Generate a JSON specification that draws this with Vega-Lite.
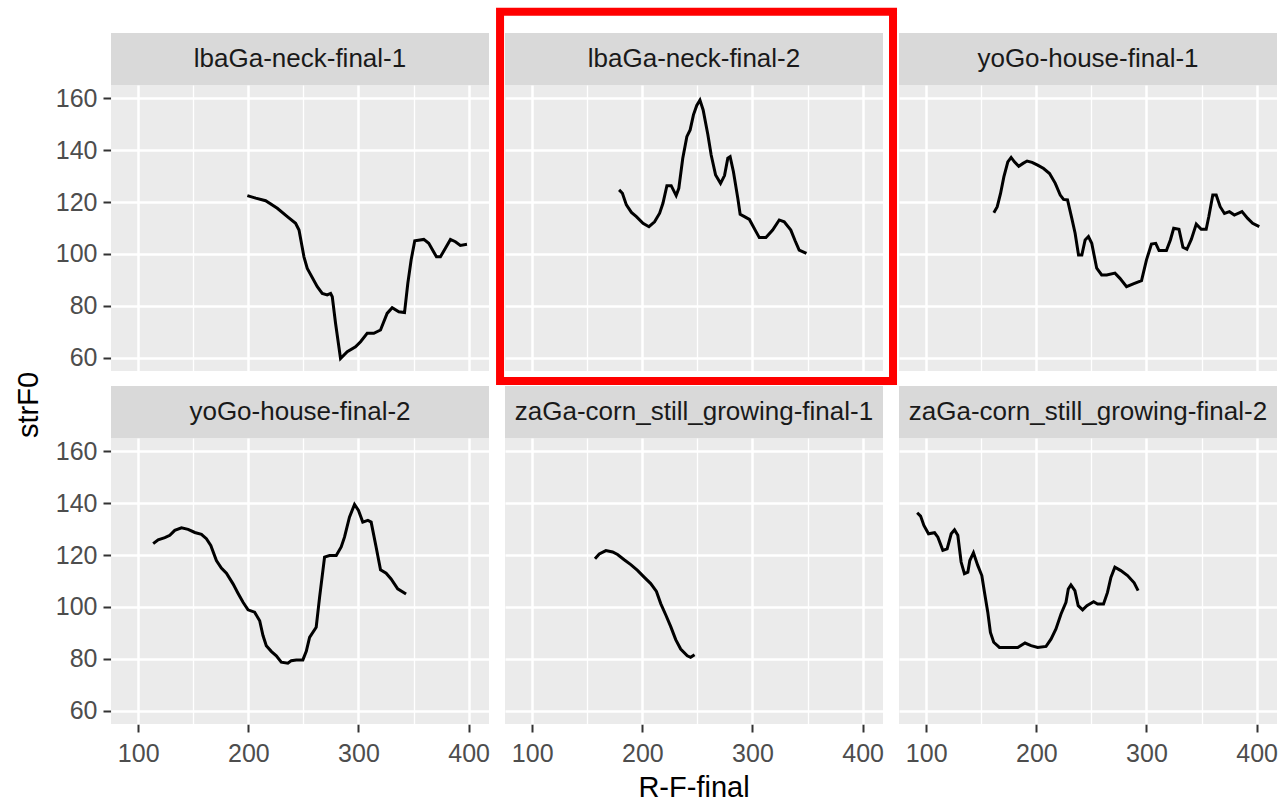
{
  "$schema": "https://vega.github.io/schema/vega-lite/v6.json",
  "padding": {"left": 15, "top": 6, "right": 2, "bottom": 0},
  "bounds": "flush",
  "title": {"text": "strF0", "orient": "left", "anchor": "middle", "fontSize": 29, "fontWeight": "normal", "color": "#000000", "offset": 11},
  "data": {"values": [
    {"panel": "lbaGa-neck-final-1", "rf": 199.1, "f0": 122.5},
    {"panel": "lbaGa-neck-final-1", "rf": 206.7, "f0": 121.5},
    {"panel": "lbaGa-neck-final-1", "rf": 215.7, "f0": 120.5},
    {"panel": "lbaGa-neck-final-1", "rf": 226.3, "f0": 117.6},
    {"panel": "lbaGa-neck-final-1", "rf": 235.4, "f0": 114.4},
    {"panel": "lbaGa-neck-final-1", "rf": 242.9, "f0": 111.8},
    {"panel": "lbaGa-neck-final-1", "rf": 246.0, "f0": 109.2},
    {"panel": "lbaGa-neck-final-1", "rf": 250.5, "f0": 98.9},
    {"panel": "lbaGa-neck-final-1", "rf": 253.5, "f0": 94.4},
    {"panel": "lbaGa-neck-final-1", "rf": 262.6, "f0": 87.4},
    {"panel": "lbaGa-neck-final-1", "rf": 267.1, "f0": 84.8},
    {"panel": "lbaGa-neck-final-1", "rf": 271.6, "f0": 84.2},
    {"panel": "lbaGa-neck-final-1", "rf": 274.7, "f0": 84.8},
    {"panel": "lbaGa-neck-final-1", "rf": 276.2, "f0": 83.5},
    {"panel": "lbaGa-neck-final-1", "rf": 279.2, "f0": 73.2},
    {"panel": "lbaGa-neck-final-1", "rf": 283.7, "f0": 59.7},
    {"panel": "lbaGa-neck-final-1", "rf": 289.8, "f0": 62.3},
    {"panel": "lbaGa-neck-final-1", "rf": 297.3, "f0": 64.2},
    {"panel": "lbaGa-neck-final-1", "rf": 301.9, "f0": 66.2},
    {"panel": "lbaGa-neck-final-1", "rf": 307.9, "f0": 69.4},
    {"panel": "lbaGa-neck-final-1", "rf": 313.9, "f0": 69.4},
    {"panel": "lbaGa-neck-final-1", "rf": 320.0, "f0": 70.7},
    {"panel": "lbaGa-neck-final-1", "rf": 326.0, "f0": 77.1},
    {"panel": "lbaGa-neck-final-1", "rf": 330.6, "f0": 79.3},
    {"panel": "lbaGa-neck-final-1", "rf": 336.6, "f0": 77.7},
    {"panel": "lbaGa-neck-final-1", "rf": 341.8, "f0": 77.4},
    {"panel": "lbaGa-neck-final-1", "rf": 344.8, "f0": 88.7},
    {"panel": "lbaGa-neck-final-1", "rf": 347.8, "f0": 97.7},
    {"panel": "lbaGa-neck-final-1", "rf": 351.1, "f0": 105.1},
    {"panel": "lbaGa-neck-final-1", "rf": 359.3, "f0": 105.6},
    {"panel": "lbaGa-neck-final-1", "rf": 363.8, "f0": 104.1},
    {"panel": "lbaGa-neck-final-1", "rf": 370.8, "f0": 98.9},
    {"panel": "lbaGa-neck-final-1", "rf": 374.4, "f0": 98.9},
    {"panel": "lbaGa-neck-final-1", "rf": 378.9, "f0": 102.2},
    {"panel": "lbaGa-neck-final-1", "rf": 383.5, "f0": 105.6},
    {"panel": "lbaGa-neck-final-1", "rf": 388.0, "f0": 104.7},
    {"panel": "lbaGa-neck-final-1", "rf": 392.5, "f0": 103.3},
    {"panel": "lbaGa-neck-final-1", "rf": 398.5, "f0": 103.7},

    {"panel": "lbaGa-neck-final-2", "rf": 178.9, "f0": 124.7},
    {"panel": "lbaGa-neck-final-2", "rf": 181.9, "f0": 123.4},
    {"panel": "lbaGa-neck-final-2", "rf": 185.5, "f0": 118.9},
    {"panel": "lbaGa-neck-final-2", "rf": 190.1, "f0": 116.0},
    {"panel": "lbaGa-neck-final-2", "rf": 194.6, "f0": 114.4},
    {"panel": "lbaGa-neck-final-2", "rf": 200.6, "f0": 111.8},
    {"panel": "lbaGa-neck-final-2", "rf": 206.0, "f0": 110.5},
    {"panel": "lbaGa-neck-final-2", "rf": 211.1, "f0": 112.4},
    {"panel": "lbaGa-neck-final-2", "rf": 215.7, "f0": 115.7},
    {"panel": "lbaGa-neck-final-2", "rf": 218.7, "f0": 119.5},
    {"panel": "lbaGa-neck-final-2", "rf": 222.3, "f0": 126.3},
    {"panel": "lbaGa-neck-final-2", "rf": 226.2, "f0": 126.3},
    {"panel": "lbaGa-neck-final-2", "rf": 230.7, "f0": 122.5},
    {"panel": "lbaGa-neck-final-2", "rf": 233.1, "f0": 125.3},
    {"panel": "lbaGa-neck-final-2", "rf": 236.7, "f0": 136.9},
    {"panel": "lbaGa-neck-final-2", "rf": 240.4, "f0": 145.2},
    {"panel": "lbaGa-neck-final-2", "rf": 243.4, "f0": 147.8},
    {"panel": "lbaGa-neck-final-2", "rf": 246.4, "f0": 153.6},
    {"panel": "lbaGa-neck-final-2", "rf": 249.4, "f0": 157.2},
    {"panel": "lbaGa-neck-final-2", "rf": 252.3, "f0": 159.3},
    {"panel": "lbaGa-neck-final-2", "rf": 255.2, "f0": 155.5},
    {"panel": "lbaGa-neck-final-2", "rf": 259.5, "f0": 145.9},
    {"panel": "lbaGa-neck-final-2", "rf": 262.5, "f0": 138.1},
    {"panel": "lbaGa-neck-final-2", "rf": 266.5, "f0": 130.4},
    {"panel": "lbaGa-neck-final-2", "rf": 271.0, "f0": 127.2},
    {"panel": "lbaGa-neck-final-2", "rf": 274.6, "f0": 130.2},
    {"panel": "lbaGa-neck-final-2", "rf": 277.6, "f0": 136.9},
    {"panel": "lbaGa-neck-final-2", "rf": 279.7, "f0": 137.5},
    {"panel": "lbaGa-neck-final-2", "rf": 282.7, "f0": 131.7},
    {"panel": "lbaGa-neck-final-2", "rf": 286.7, "f0": 121.4},
    {"panel": "lbaGa-neck-final-2", "rf": 288.8, "f0": 115.3},
    {"panel": "lbaGa-neck-final-2", "rf": 292.7, "f0": 114.4},
    {"panel": "lbaGa-neck-final-2", "rf": 297.2, "f0": 113.3},
    {"panel": "lbaGa-neck-final-2", "rf": 303.2, "f0": 108.6},
    {"panel": "lbaGa-neck-final-2", "rf": 306.2, "f0": 106.3},
    {"panel": "lbaGa-neck-final-2", "rf": 312.2, "f0": 106.3},
    {"panel": "lbaGa-neck-final-2", "rf": 318.3, "f0": 109.2},
    {"panel": "lbaGa-neck-final-2", "rf": 324.3, "f0": 113.1},
    {"panel": "lbaGa-neck-final-2", "rf": 328.8, "f0": 112.4},
    {"panel": "lbaGa-neck-final-2", "rf": 334.8, "f0": 109.2},
    {"panel": "lbaGa-neck-final-2", "rf": 338.8, "f0": 105.0},
    {"panel": "lbaGa-neck-final-2", "rf": 342.4, "f0": 101.5},
    {"panel": "lbaGa-neck-final-2", "rf": 349.0, "f0": 100.2},

    {"panel": "yoGo-house-final-1", "rf": 161.4, "f0": 115.9},
    {"panel": "yoGo-house-final-1", "rf": 164.5, "f0": 118.2},
    {"panel": "yoGo-house-final-1", "rf": 167.5, "f0": 123.3},
    {"panel": "yoGo-house-final-1", "rf": 170.5, "f0": 129.7},
    {"panel": "yoGo-house-final-1", "rf": 174.1, "f0": 135.5},
    {"panel": "yoGo-house-final-1", "rf": 177.1, "f0": 137.2},
    {"panel": "yoGo-house-final-1", "rf": 180.1, "f0": 135.5},
    {"panel": "yoGo-house-final-1", "rf": 184.0, "f0": 133.8},
    {"panel": "yoGo-house-final-1", "rf": 187.9, "f0": 134.9},
    {"panel": "yoGo-house-final-1", "rf": 191.6, "f0": 135.8},
    {"panel": "yoGo-house-final-1", "rf": 196.1, "f0": 135.3},
    {"panel": "yoGo-house-final-1", "rf": 201.2, "f0": 134.2},
    {"panel": "yoGo-house-final-1", "rf": 206.6, "f0": 132.9},
    {"panel": "yoGo-house-final-1", "rf": 212.0, "f0": 131.0},
    {"panel": "yoGo-house-final-1", "rf": 217.2, "f0": 127.2},
    {"panel": "yoGo-house-final-1", "rf": 221.7, "f0": 122.7},
    {"panel": "yoGo-house-final-1", "rf": 224.7, "f0": 121.0},
    {"panel": "yoGo-house-final-1", "rf": 228.3, "f0": 120.8},
    {"panel": "yoGo-house-final-1", "rf": 232.2, "f0": 113.7},
    {"panel": "yoGo-house-final-1", "rf": 235.2, "f0": 108.0},
    {"panel": "yoGo-house-final-1", "rf": 238.3, "f0": 99.6},
    {"panel": "yoGo-house-final-1", "rf": 241.3, "f0": 99.6},
    {"panel": "yoGo-house-final-1", "rf": 244.3, "f0": 105.4},
    {"panel": "yoGo-house-final-1", "rf": 247.3, "f0": 106.7},
    {"panel": "yoGo-house-final-1", "rf": 250.3, "f0": 104.1},
    {"panel": "yoGo-house-final-1", "rf": 254.8, "f0": 94.5},
    {"panel": "yoGo-house-final-1", "rf": 259.3, "f0": 91.9},
    {"panel": "yoGo-house-final-1", "rf": 263.9, "f0": 91.9},
    {"panel": "yoGo-house-final-1", "rf": 271.4, "f0": 92.6},
    {"panel": "yoGo-house-final-1", "rf": 275.9, "f0": 90.6},
    {"panel": "yoGo-house-final-1", "rf": 281.9, "f0": 87.4},
    {"panel": "yoGo-house-final-1", "rf": 288.0, "f0": 88.5},
    {"panel": "yoGo-house-final-1", "rf": 295.5, "f0": 89.7},
    {"panel": "yoGo-house-final-1", "rf": 300.0, "f0": 97.7},
    {"panel": "yoGo-house-final-1", "rf": 304.5, "f0": 103.8},
    {"panel": "yoGo-house-final-1", "rf": 308.4, "f0": 104.1},
    {"panel": "yoGo-house-final-1", "rf": 311.4, "f0": 101.3},
    {"panel": "yoGo-house-final-1", "rf": 318.1, "f0": 101.3},
    {"panel": "yoGo-house-final-1", "rf": 321.7, "f0": 105.4},
    {"panel": "yoGo-house-final-1", "rf": 324.7, "f0": 109.9},
    {"panel": "yoGo-house-final-1", "rf": 329.5, "f0": 109.5},
    {"panel": "yoGo-house-final-1", "rf": 333.1, "f0": 102.6},
    {"panel": "yoGo-house-final-1", "rf": 336.7, "f0": 101.8},
    {"panel": "yoGo-house-final-1", "rf": 340.7, "f0": 105.6},
    {"panel": "yoGo-house-final-1", "rf": 345.2, "f0": 111.5},
    {"panel": "yoGo-house-final-1", "rf": 349.7, "f0": 109.5},
    {"panel": "yoGo-house-final-1", "rf": 354.2, "f0": 109.5},
    {"panel": "yoGo-house-final-1", "rf": 356.6, "f0": 114.4},
    {"panel": "yoGo-house-final-1", "rf": 360.2, "f0": 122.7},
    {"panel": "yoGo-house-final-1", "rf": 363.3, "f0": 122.7},
    {"panel": "yoGo-house-final-1", "rf": 366.9, "f0": 118.2},
    {"panel": "yoGo-house-final-1", "rf": 370.8, "f0": 115.6},
    {"panel": "yoGo-house-final-1", "rf": 375.3, "f0": 116.3},
    {"panel": "yoGo-house-final-1", "rf": 379.8, "f0": 115.0},
    {"panel": "yoGo-house-final-1", "rf": 386.7, "f0": 116.3},
    {"panel": "yoGo-house-final-1", "rf": 391.9, "f0": 113.7},
    {"panel": "yoGo-house-final-1", "rf": 396.4, "f0": 111.8},
    {"panel": "yoGo-house-final-1", "rf": 402.4, "f0": 110.5},

    {"panel": "yoGo-house-final-2", "rf": 113.6, "f0": 124.4},
    {"panel": "yoGo-house-final-2", "rf": 118.1, "f0": 125.9},
    {"panel": "yoGo-house-final-2", "rf": 124.2, "f0": 126.7},
    {"panel": "yoGo-house-final-2", "rf": 128.7, "f0": 127.6},
    {"panel": "yoGo-house-final-2", "rf": 133.2, "f0": 129.5},
    {"panel": "yoGo-house-final-2", "rf": 139.3, "f0": 130.5},
    {"panel": "yoGo-house-final-2", "rf": 145.3, "f0": 129.9},
    {"panel": "yoGo-house-final-2", "rf": 151.4, "f0": 128.7},
    {"panel": "yoGo-house-final-2", "rf": 157.4, "f0": 128.0},
    {"panel": "yoGo-house-final-2", "rf": 161.9, "f0": 126.3},
    {"panel": "yoGo-house-final-2", "rf": 165.9, "f0": 123.7},
    {"panel": "yoGo-house-final-2", "rf": 171.0, "f0": 117.9},
    {"panel": "yoGo-house-final-2", "rf": 175.5, "f0": 115.0},
    {"panel": "yoGo-house-final-2", "rf": 180.1, "f0": 113.0},
    {"panel": "yoGo-house-final-2", "rf": 186.1, "f0": 108.9},
    {"panel": "yoGo-house-final-2", "rf": 190.6, "f0": 105.3},
    {"panel": "yoGo-house-final-2", "rf": 195.2, "f0": 101.8},
    {"panel": "yoGo-house-final-2", "rf": 199.7, "f0": 98.9},
    {"panel": "yoGo-house-final-2", "rf": 205.7, "f0": 98.0},
    {"panel": "yoGo-house-final-2", "rf": 210.3, "f0": 94.7},
    {"panel": "yoGo-house-final-2", "rf": 213.3, "f0": 89.0},
    {"panel": "yoGo-house-final-2", "rf": 216.3, "f0": 85.1},
    {"panel": "yoGo-house-final-2", "rf": 220.8, "f0": 82.9},
    {"panel": "yoGo-house-final-2", "rf": 225.4, "f0": 81.2},
    {"panel": "yoGo-house-final-2", "rf": 229.9, "f0": 78.7},
    {"panel": "yoGo-house-final-2", "rf": 235.9, "f0": 78.3},
    {"panel": "yoGo-house-final-2", "rf": 239.0, "f0": 79.3},
    {"panel": "yoGo-house-final-2", "rf": 243.5, "f0": 79.6},
    {"panel": "yoGo-house-final-2", "rf": 249.5, "f0": 79.6},
    {"panel": "yoGo-house-final-2", "rf": 252.6, "f0": 82.9},
    {"panel": "yoGo-house-final-2", "rf": 255.6, "f0": 88.3},
    {"panel": "yoGo-house-final-2", "rf": 261.6, "f0": 92.2},
    {"panel": "yoGo-house-final-2", "rf": 264.7, "f0": 103.8},
    {"panel": "yoGo-house-final-2", "rf": 269.2, "f0": 119.2},
    {"panel": "yoGo-house-final-2", "rf": 273.7, "f0": 119.8},
    {"panel": "yoGo-house-final-2", "rf": 279.8, "f0": 119.8},
    {"panel": "yoGo-house-final-2", "rf": 284.3, "f0": 123.1},
    {"panel": "yoGo-house-final-2", "rf": 287.3, "f0": 126.9},
    {"panel": "yoGo-house-final-2", "rf": 291.8, "f0": 134.6},
    {"panel": "yoGo-house-final-2", "rf": 296.4, "f0": 139.5},
    {"panel": "yoGo-house-final-2", "rf": 300.0, "f0": 137.2},
    {"panel": "yoGo-house-final-2", "rf": 303.9, "f0": 132.7},
    {"panel": "yoGo-house-final-2", "rf": 308.5, "f0": 133.4},
    {"panel": "yoGo-house-final-2", "rf": 311.5, "f0": 132.7},
    {"panel": "yoGo-house-final-2", "rf": 316.0, "f0": 123.1},
    {"panel": "yoGo-house-final-2", "rf": 320.0, "f0": 114.3},
    {"panel": "yoGo-house-final-2", "rf": 325.1, "f0": 113.0},
    {"panel": "yoGo-house-final-2", "rf": 329.6, "f0": 110.8},
    {"panel": "yoGo-house-final-2", "rf": 335.6, "f0": 107.0},
    {"panel": "yoGo-house-final-2", "rf": 343.2, "f0": 105.0},

    {"panel": "zaGa-corn_still_growing-final-1", "rf": 157.0, "f0": 118.6},
    {"panel": "zaGa-corn_still_growing-final-1", "rf": 160.9, "f0": 120.4},
    {"panel": "zaGa-corn_still_growing-final-1", "rf": 166.9, "f0": 121.7},
    {"panel": "zaGa-corn_still_growing-final-1", "rf": 173.0, "f0": 121.2},
    {"panel": "zaGa-corn_still_growing-final-1", "rf": 177.5, "f0": 120.2},
    {"panel": "zaGa-corn_still_growing-final-1", "rf": 183.5, "f0": 118.2},
    {"panel": "zaGa-corn_still_growing-final-1", "rf": 189.5, "f0": 116.3},
    {"panel": "zaGa-corn_still_growing-final-1", "rf": 195.6, "f0": 114.1},
    {"panel": "zaGa-corn_still_growing-final-1", "rf": 201.6, "f0": 111.5},
    {"panel": "zaGa-corn_still_growing-final-1", "rf": 207.6, "f0": 109.0},
    {"panel": "zaGa-corn_still_growing-final-1", "rf": 212.8, "f0": 106.0},
    {"panel": "zaGa-corn_still_growing-final-1", "rf": 216.7, "f0": 101.3},
    {"panel": "zaGa-corn_still_growing-final-1", "rf": 221.2, "f0": 97.0},
    {"panel": "zaGa-corn_still_growing-final-1", "rf": 225.7, "f0": 92.5},
    {"panel": "zaGa-corn_still_growing-final-1", "rf": 230.3, "f0": 87.4},
    {"panel": "zaGa-corn_still_growing-final-1", "rf": 234.8, "f0": 83.8},
    {"panel": "zaGa-corn_still_growing-final-1", "rf": 240.8, "f0": 81.2},
    {"panel": "zaGa-corn_still_growing-final-1", "rf": 243.8, "f0": 80.6},
    {"panel": "zaGa-corn_still_growing-final-1", "rf": 247.4, "f0": 81.6},

    {"panel": "zaGa-corn_still_growing-final-2", "rf": 91.8, "f0": 136.3},
    {"panel": "zaGa-corn_still_growing-final-2", "rf": 94.9, "f0": 135.0},
    {"panel": "zaGa-corn_still_growing-final-2", "rf": 97.9, "f0": 131.4},
    {"panel": "zaGa-corn_still_growing-final-2", "rf": 102.1, "f0": 128.2},
    {"panel": "zaGa-corn_still_growing-final-2", "rf": 107.6, "f0": 128.6},
    {"panel": "zaGa-corn_still_growing-final-2", "rf": 110.6, "f0": 126.9},
    {"panel": "zaGa-corn_still_growing-final-2", "rf": 115.1, "f0": 121.8},
    {"panel": "zaGa-corn_still_growing-final-2", "rf": 119.0, "f0": 122.4},
    {"panel": "zaGa-corn_still_growing-final-2", "rf": 122.7, "f0": 128.2},
    {"panel": "zaGa-corn_still_growing-final-2", "rf": 125.7, "f0": 129.7},
    {"panel": "zaGa-corn_still_growing-final-2", "rf": 128.7, "f0": 127.6},
    {"panel": "zaGa-corn_still_growing-final-2", "rf": 131.7, "f0": 117.3},
    {"panel": "zaGa-corn_still_growing-final-2", "rf": 134.7, "f0": 112.8},
    {"panel": "zaGa-corn_still_growing-final-2", "rf": 137.8, "f0": 113.4},
    {"panel": "zaGa-corn_still_growing-final-2", "rf": 139.6, "f0": 117.9},
    {"panel": "zaGa-corn_still_growing-final-2", "rf": 142.9, "f0": 120.9},
    {"panel": "zaGa-corn_still_growing-final-2", "rf": 146.8, "f0": 116.0},
    {"panel": "zaGa-corn_still_growing-final-2", "rf": 150.5, "f0": 112.1},
    {"panel": "zaGa-corn_still_growing-final-2", "rf": 152.9, "f0": 105.7},
    {"panel": "zaGa-corn_still_growing-final-2", "rf": 155.9, "f0": 98.0},
    {"panel": "zaGa-corn_still_growing-final-2", "rf": 158.3, "f0": 90.2},
    {"panel": "zaGa-corn_still_growing-final-2", "rf": 161.3, "f0": 86.4},
    {"panel": "zaGa-corn_still_growing-final-2", "rf": 166.5, "f0": 84.4},
    {"panel": "zaGa-corn_still_growing-final-2", "rf": 174.0, "f0": 84.4},
    {"panel": "zaGa-corn_still_growing-final-2", "rf": 183.1, "f0": 84.4},
    {"panel": "zaGa-corn_still_growing-final-2", "rf": 189.7, "f0": 86.1},
    {"panel": "zaGa-corn_still_growing-final-2", "rf": 195.2, "f0": 85.1},
    {"panel": "zaGa-corn_still_growing-final-2", "rf": 201.2, "f0": 84.4},
    {"panel": "zaGa-corn_still_growing-final-2", "rf": 208.8, "f0": 84.8},
    {"panel": "zaGa-corn_still_growing-final-2", "rf": 213.3, "f0": 87.6},
    {"panel": "zaGa-corn_still_growing-final-2", "rf": 217.8, "f0": 91.5},
    {"panel": "zaGa-corn_still_growing-final-2", "rf": 222.4, "f0": 97.3},
    {"panel": "zaGa-corn_still_growing-final-2", "rf": 226.9, "f0": 101.8},
    {"panel": "zaGa-corn_still_growing-final-2", "rf": 229.0, "f0": 106.9},
    {"panel": "zaGa-corn_still_growing-final-2", "rf": 231.4, "f0": 108.5},
    {"panel": "zaGa-corn_still_growing-final-2", "rf": 235.0, "f0": 106.3},
    {"panel": "zaGa-corn_still_growing-final-2", "rf": 238.0, "f0": 100.5},
    {"panel": "zaGa-corn_still_growing-final-2", "rf": 242.0, "f0": 98.9},
    {"panel": "zaGa-corn_still_growing-final-2", "rf": 245.9, "f0": 100.5},
    {"panel": "zaGa-corn_still_growing-final-2", "rf": 252.0, "f0": 102.0},
    {"panel": "zaGa-corn_still_growing-final-2", "rf": 255.6, "f0": 101.1},
    {"panel": "zaGa-corn_still_growing-final-2", "rf": 261.0, "f0": 101.1},
    {"panel": "zaGa-corn_still_growing-final-2", "rf": 264.6, "f0": 105.6},
    {"panel": "zaGa-corn_still_growing-final-2", "rf": 267.7, "f0": 111.4},
    {"panel": "zaGa-corn_still_growing-final-2", "rf": 271.3, "f0": 115.3},
    {"panel": "zaGa-corn_still_growing-final-2", "rf": 276.7, "f0": 114.0},
    {"panel": "zaGa-corn_still_growing-final-2", "rf": 282.8, "f0": 112.1},
    {"panel": "zaGa-corn_still_growing-final-2", "rf": 288.8, "f0": 109.3},
    {"panel": "zaGa-corn_still_growing-final-2", "rf": 292.4, "f0": 106.3}
  ]},
  "facet": {
    "field": "panel", "type": "nominal", "title": "R-F-final",
    "header": {
      "labelExpr": "''", "labelFontSize": 1, "labelPadding": 0,
      "titleOrient": "bottom", "titleFontSize": 29, "titleFontWeight": "normal",
      "titleColor": "#000000", "titlePadding": 8
    }
  },
  "columns": 3,
  "spacing": {"row": 67, "column": 16},
  "spec": {
    "width": 378,
    "height": 286,
    "layer": [
      {
        "transform": [{"aggregate": [{"op": "count", "as": "n"}], "groupby": ["panel"]}],
        "mark": {"type": "rect", "fill": "#D9D9D9"},
        "encoding": {
          "x": {"datum": 75.3, "type": "quantitative", "title": null},
          "x2": {"datum": 418.5},
          "y": {"datum": 165.1, "type": "quantitative", "title": null},
          "y2": {"datum": 185.15}
        }
      },
      {
        "transform": [{"aggregate": [{"op": "count", "as": "n"}], "groupby": ["panel"]}],
        "mark": {"type": "text", "fontSize": 26, "color": "#1A1A1A", "baseline": "middle", "align": "center"},
        "encoding": {
          "x": {"datum": 246.9, "type": "quantitative", "title": null},
          "y": {"datum": 175.1, "type": "quantitative", "title": null},
          "text": {"field": "panel", "type": "nominal"}
        }
      },
      {
        "transform": [
          {"filter": "datum.panel === 'lbaGa-neck-final-2'"},
          {"aggregate": [{"op": "count", "as": "n"}], "groupby": ["panel"]}
        ],
        "mark": {"type": "rect", "fillOpacity": 0, "stroke": "#FF0000", "strokeWidth": 8},
        "encoding": {
          "x": {"datum": 70.8, "type": "quantitative", "title": null},
          "x2": {"datum": 427.6},
          "y": {"datum": 193.3, "type": "quantitative", "title": null},
          "y2": {"datum": 51.0}
        }
      },
      {
        "mark": {"type": "line", "color": "black", "strokeWidth": 3},
        "encoding": {
          "x": {
            "field": "rf", "type": "quantitative", "title": null,
            "scale": {"domain": [75.3, 418.5], "nice": false, "zero": false},
            "axis": {
              "values": [100, 150, 200, 250, 300, 350, 400],
              "labelPadding": 9,
              "labelExpr": "datum.value % 100 === 0 ? datum.label : ''",
              "gridWidth": {"condition": {"test": "datum.value % 100 === 0", "value": 2.5}, "value": 1.3},
              "tickOpacity": {"condition": {"test": "datum.value % 100 === 0", "value": 1}, "value": 0}
            }
          },
          "y": {
            "field": "f0", "type": "quantitative", "title": null,
            "scale": {"domain": [54.9, 165.1], "nice": false, "zero": false},
            "axis": {
              "values": [60, 70, 80, 90, 100, 110, 120, 130, 140, 150, 160],
              "labelPadding": 6,
              "labelExpr": "datum.value % 20 === 0 ? datum.label : ''",
              "gridWidth": {"condition": {"test": "datum.value % 20 === 0", "value": 2.5}, "value": 1.3},
              "tickOpacity": {"condition": {"test": "datum.value % 20 === 0", "value": 1}, "value": 0}
            }
          }
        }
      }
    ]
  },
  "config": {
    "font": "Liberation Sans",
    "view": {"fill": "#EBEBEB", "stroke": null},
    "axis": {
      "domain": false,
      "grid": true,
      "gridColor": "#FFFFFF",
      "labelFontSize": 25,
      "labelColor": "#4D4D4D",
      "tickColor": "#333333",
      "tickSize": 8,
      "tickWidth": 2,
      "titleFontSize": 29,
      "titleColor": "#000000",
      "titleFontWeight": "normal"
    }
  }
}
